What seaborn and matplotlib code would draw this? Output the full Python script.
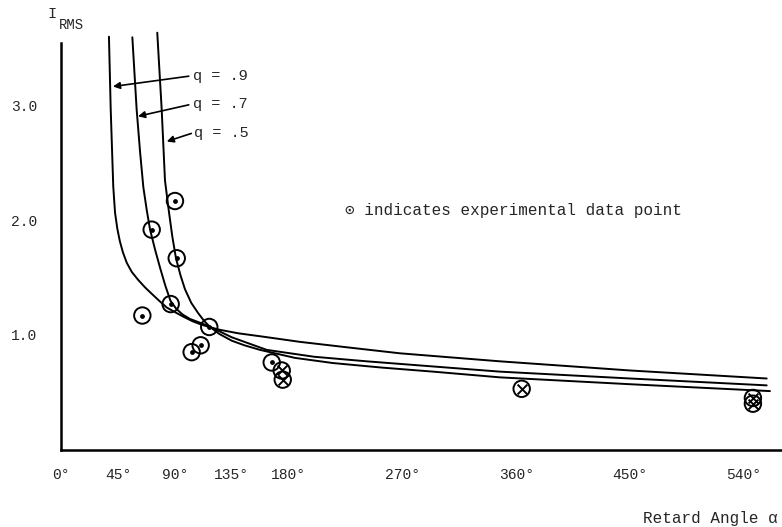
import matplotlib
matplotlib.use("Agg")
import matplotlib.pyplot as plt
import seaborn as sns
import pandas as pd

# ---- data ----
q_labels = ["q = .9", "q = .7", "q = .5"]

q9_angle = [37.9, 39.3, 41.3, 42.7, 44.5, 46.5, 49.0, 52.0, 56.0, 61.1, 66.5, 71.7, 77.5,
            83.6, 90.0, 96.7, 104.0, 111.2, 118.5, 125.7, 140.0, 160.0, 188.9, 228.0,
            268.0, 347.0, 450.0, 557.9]
q9_irms  = [3.605, 2.97, 2.30, 2.07, 1.93, 1.82, 1.72, 1.63, 1.55, 1.48, 1.415, 1.36, 1.30,
            1.24, 1.20, 1.16, 1.12, 1.09, 1.065, 1.045, 1.015, 0.985, 0.94, 0.89,
            0.84, 0.77, 0.69, 0.62]

q7_angle = [56.4, 59.8, 62.5, 65.1, 67.8, 70.4, 74.5, 78.5, 82.5, 86.5, 91.0, 96.0, 102.0,
            108.0, 113.8, 120.0, 135.0, 162.6, 200.0, 241.7, 347.0, 450.0, 557.9]
q7_irms  = [3.60, 2.97, 2.60, 2.29, 2.09, 1.92, 1.74, 1.58, 1.43, 1.30, 1.23, 1.18, 1.14,
            1.115, 1.09, 1.06, 0.98, 0.87, 0.81, 0.77, 0.68, 0.62, 0.56]

q5_angle = [76.1, 79.6, 82.2, 85.4, 88.0, 90.9, 94.5, 98.0, 103.0, 108.5, 113.0, 117.8,
            125.0, 135.0, 145.0, 157.3, 185.0, 215.0, 254.0, 294.1, 347.0, 450.0, 560.5]
q5_irms  = [3.64, 2.97, 2.35, 2.07, 1.86, 1.67, 1.52, 1.40, 1.28, 1.19, 1.125, 1.07,
            1.01, 0.95, 0.91, 0.87, 0.80, 0.755, 0.715, 0.68, 0.63, 0.57, 0.51]

exp_angle = [90.1, 71.7, 91.5, 86.7, 64.3, 117.2, 110.4, 103.3, 166.6, 174.5, 175.3, 364.2, 547.0, 547.0]
exp_irms  = [2.17, 1.92, 1.67, 1.27, 1.17, 1.07, 0.91, 0.85, 0.76, 0.69, 0.61, 0.53, 0.45, 0.40]
exp_mark  = ["dot", "dot", "dot", "dot", "dot", "dot", "dot", "dot", "dot",
             "cross", "cross", "cross", "cross", "cross"]

x_ticks = [0, 45, 90, 135, 180, 270, 360, 450, 540]
x_tick_labels = ["0°", "45°", "90°", "135°", "180°", "270°", "360°", "450°", "540°"]
y_ticks = [1.0, 2.0, 3.0]
y_tick_labels = ["1.0", "2.0", "3.0"]

# label / arrow anchor points (data units)
q_text_pos = [(104, 3.26), (104, 3.02), (105, 2.76)]
q_arrow_tail = [(101, 3.26), (101, 3.01), (103, 2.76)]
q_arrow_head = [(41.1, 3.17), (60.9, 2.91), (83.6, 2.69)]

# ---- build table ----
curves = pd.concat([
    pd.DataFrame({"angle": q9_angle, "irms": q9_irms, "q": q_labels[0]}),
    pd.DataFrame({"angle": q7_angle, "irms": q7_irms, "q": q_labels[1]}),
    pd.DataFrame({"angle": q5_angle, "irms": q5_irms, "q": q_labels[2]}),
], ignore_index=True)
exp = pd.DataFrame({"angle": exp_angle, "irms": exp_irms, "mark": exp_mark})

sns.set_style("white")
MONO = ["Liberation Mono", "DejaVu Sans Mono"]
plt.rcParams["font.family"] = MONO

fig = plt.figure(figsize=(7.82, 5.27), dpi=100)
ax = fig.add_axes([61 / 782, 77.5 / 527, 721 / 782, 421.4 / 527])

sns.lineplot(data=curves, x="angle", y="irms", hue="q", units="q", estimator=None,
             palette=["black"] * 3, legend=False, lw=1.4, sort=False, ax=ax)

sns.scatterplot(data=exp, x="angle", y="irms", marker="o", s=140,
                facecolor="none", edgecolor="black", linewidth=1.4, ax=ax, zorder=3)
sns.scatterplot(data=exp[exp["mark"] == "dot"], x="angle", y="irms", marker="o", s=12,
                color="black", linewidth=0, ax=ax, zorder=4)
sns.scatterplot(data=exp[exp["mark"] == "cross"], x="angle", y="irms", marker="x", s=50,
                color="black", linewidth=1.4, ax=ax, zorder=4)

for lab, tp, tail, head in zip(q_labels, q_text_pos, q_arrow_tail, q_arrow_head):
    ax.text(tp[0], tp[1], lab, ha="left", va="center", fontsize=11, family=MONO)
    ax.annotate("", xy=head, xytext=tail,
                arrowprops=dict(arrowstyle="-|>", color="black", lw=1.2,
                                mutation_scale=10, shrinkA=0, shrinkB=0))

ax.text(224.5, 2.09, "⊙ indicates experimental data point", ha="left", va="center",
        fontsize=11.5, family=MONO)

ax.set_xlim(0, 570)
ax.set_ylim(0, 3.68)
ax.set_xticks(x_ticks)
ax.set_xticklabels(x_tick_labels, fontsize=10.5)
ax.set_yticks(y_ticks)
ax.set_yticklabels(y_tick_labels, fontsize=10.5)
ax.xaxis.get_major_ticks()[0].tick1line.set_visible(False)
ax.tick_params(axis="both", direction="inout", length=10, width=1.2, color="black")
ax.tick_params(axis="x", pad=8)
ax.tick_params(axis="y", pad=12)
ax.set_xlabel("")
ax.set_ylabel("")

for side in ["top", "right"]:
    ax.spines[side].set_visible(False)
for side in ["left", "bottom"]:
    ax.spines[side].set_linewidth(1.8)
    ax.spines[side].set_color("black")
ax.spines["left"].set_bounds(0, 3.55)

fig.text(52 / 782, 1 - 14 / 527, "I", ha="center", va="center", fontsize=11, family=MONO)
fig.text(71 / 782, 1 - 25 / 527, "RMS", ha="center", va="center", fontsize=10, family=MONO)
fig.text(778 / 782, 1 - 518 / 527, "Retard Angle α", ha="right", va="center",
         fontsize=11.5, family=MONO)

fig.savefig("out.png", dpi=100, facecolor="white")
